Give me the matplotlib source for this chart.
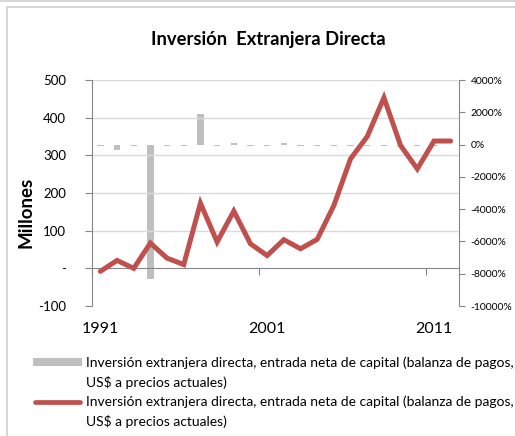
import matplotlib.pyplot as plt
from matplotlib.lines import Line2D
from matplotlib.patches import Rectangle

plt.rcParams['font.family'] = ['Lato', 'DejaVu Sans']

# data
years = list(range(1991, 2013))
ied_millones = [-8, 21, 0, 67, 27, 10, 173, 70, 152, 65, 34, 76, 52, 77,
                167, 291, 350, 453, 326, 264, 338, 338]
ied_variacion = [-60, -350, -60, -8300, -70, -70, 1900, -70, 100, -70, -70,
                 100, -70, -70, -70, -70, -70, -70, -70, -70, -70, 0]
left_ticks = [-100, 0, 100, 200, 300, 400, 500]
left_labels = ['-100', '-', '100', '200', '300', '400', '500']
right_ticks = [-10000, -8000, -6000, -4000, -2000, 0, 2000, 4000]
label_years = [1991, 2001, 2011]
serie_label = ['Inversión extranjera directa, entrada neta de capital (balanza de pagos,',
               'US$ a precios actuales)']

axis_col = '#868686'
grid_col = '#d9d9d9'
bar_col = '#bfbfbf'
line_col = '#c0504d'

W, H = 515, 436
fig = plt.figure(figsize=(W / 100, H / 100), dpi=100)

# chart area border
fig.add_artist(Rectangle((7 / W, -0.1), 1.2, 1 - 7 / H + 0.1, transform=fig.transFigure,
                         fill=False, edgecolor='#d0d0d0', lw=1.2))
fig.add_artist(Line2D([0, 1], [1 - 1.5 / H, 1 - 1.5 / H], transform=fig.transFigure,
                      color='#d0d0d0', lw=1.2))

ax = fig.add_axes([92 / W, 1 - 306 / H, (459 - 92) / W, (306 - 80) / H])
axr = ax.twinx()
ax.set_zorder(axr.get_zorder() + 1)
ax.patch.set_visible(False)

x = list(range(len(years)))

# bars on the percent axis
axr.bar(x, ied_variacion, width=0.38, color=bar_col, zorder=2)
axr.set_ylim(-10000, 4000)
axr.set_yticks(right_ticks)
axr.set_yticklabels([f'{v}%' for v in right_ticks])

# line on the millions axis
ax.plot(x, ied_millones, color=line_col, lw=3.6, solid_capstyle='round',
        solid_joinstyle='miter', zorder=3)
ax.set_ylim(-100, 500)
ax.set_xlim(-0.5, len(years) - 0.5)
ax.set_yticks(left_ticks)
ax.set_yticklabels(left_labels)
for v in left_ticks:
    if v > 0:
        ax.axhline(v, color=grid_col, lw=1, zorder=0)

for a in (ax, axr):
    for s in a.spines.values():
        s.set_visible(False)

ax.spines['left'].set_visible(True)
ax.spines['left'].set_color(axis_col)
axr.spines['right'].set_visible(True)
axr.spines['right'].set_color(axis_col)
ax.spines['bottom'].set_visible(True)
ax.spines['bottom'].set_color(axis_col)
ax.spines['bottom'].set_position(('data', 0))

ax.tick_params(axis='y', length=5, color=axis_col, pad=13.5, labelsize=9.5)
axr.tick_params(axis='y', length=4, color=axis_col, pad=4.5, labelsize=7.5)
ax.set_xticks([-0.5, 9.5, 19.5])
ax.set_xticklabels([])
ax.tick_params(axis='x', length=5, color=axis_col)

for yr in label_years:
    ax.text(years.index(yr), -0.1, str(yr), transform=ax.get_xaxis_transform(),
            ha='center', va='center', fontsize=11.5)

fig.text(268 / W, 1 - 40 / H, 'Inversión  Extranjera Directa', ha='center', va='center',
         fontsize=13.2, fontweight='bold')
fig.text(26 / W, 1 - 212 / H, 'Millones', rotation=90, ha='center', va='center',
         fontsize=13.5, fontweight='bold')

# legend, handle aligned with the first text line
legend_items = [
    (Line2D([33 / W, 82 / W], [1 - 362 / H] * 2, color=bar_col, lw=5.8,
            solid_capstyle='butt', transform=fig.transFigure), 363),
    (Line2D([35 / W, 80 / W], [1 - 402 / H] * 2, color=line_col, lw=3.4,
            solid_capstyle='round', transform=fig.transFigure), 402),
]
for handle, ypix in legend_items:
    fig.add_artist(handle)
    for k, txt in enumerate(serie_label):
        fig.text(86 / W, 1 - (ypix + 19 * k) / H, txt, ha='left', va='center',
                 fontsize=10)

fig.savefig('out.png', dpi=100)
